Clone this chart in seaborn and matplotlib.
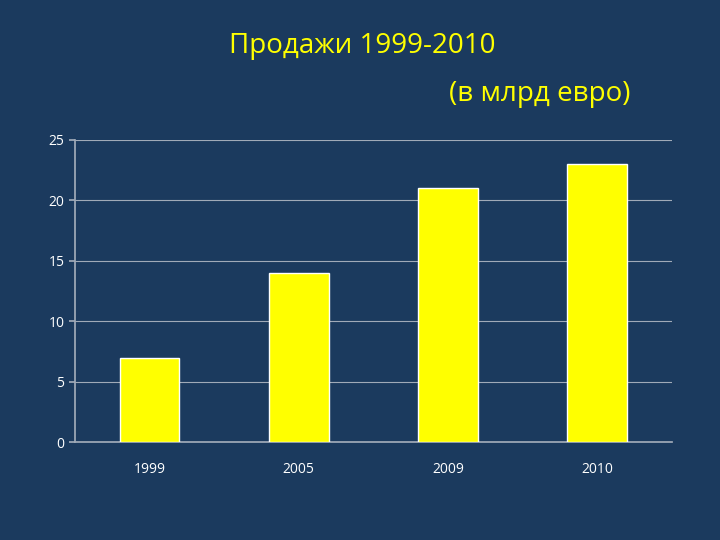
import matplotlib
import matplotlib.pyplot as plt
import seaborn as sns

matplotlib.use("Agg")

years = ["1999", "2005", "2009", "2010"]
sales = [7, 14, 21, 23]

bg = "#1b3a5e"
sns.set_theme(style="white")
plt.rcParams["font.family"] = ["Open Sans", "DejaVu Sans"]

fig = plt.figure(figsize=(7.2, 5.4), dpi=100, facecolor=bg)
ax = fig.add_axes([0.104, 0.181, 0.829, 0.56])
ax.set_facecolor(bg)

sns.barplot(x=years, y=sales, color="#ffff00", saturation=1, width=0.4, ax=ax, zorder=3)

ax.set_ylim(0, 25)
ax.set_yticks(range(0, 26, 5))
ax.yaxis.grid(True, color="#a0aab8", linewidth=0.8, zorder=0)
for s in ["top", "right"]:
    ax.spines[s].set_visible(False)
ax.spines["left"].set_color("#a0aab8")
ax.spines["bottom"].set_color("#a0aab8")
ax.tick_params(axis="y", colors="white", labelsize=10, length=4, color="#a0aab8", left=True)
ax.tick_params(axis="x", colors="white", labelsize=10, length=0, pad=14)
ax.set_xlabel("")
ax.set_ylabel("")

fig.text(0.503, 0.915, "Продажи 1999-2010", color="#ffff00", fontsize=20, ha="center", va="center")
fig.text(0.75, 0.825, "(в млрд евро)", color="#ffff00", fontsize=20, ha="center", va="center")

fig.savefig("out.png", dpi=100, facecolor=bg)
